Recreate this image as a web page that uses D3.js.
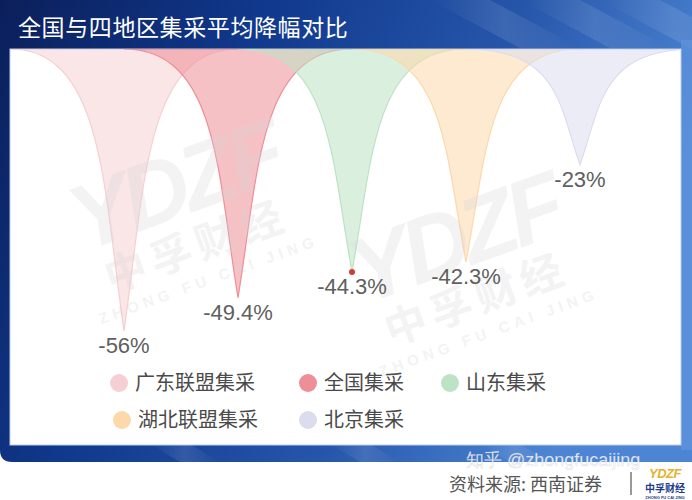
<!DOCTYPE html>
<html><head><meta charset="utf-8">
<script src="https://cdn.jsdelivr.net/npm/d3@7"></script>
<style>html,body{margin:0;padding:0;background:#fff;}svg{display:block;}</style>
</head><body>
<svg id="c" width="692" height="500"></svg>
<script>
const categories = ["广东联盟集采", "全国集采", "山东集采", "湖北联盟集采", "北京集采"];
const values = [-56, -49.4, -44.3, -42.3, -23];
const valueLabels = ["-56%", "-49.4%", "-44.3%", "-42.3%", "-23%"];
const legendColors = ["#f6cfd3", "#ee8e96", "#bde2c4", "#fcd8ab", "#dcdcef"];
const title = "全国与四地区集采平均降幅对比";
const source = "资料来源: 西南证券";

const svg = d3.select("#c");
const defs = svg.append("defs");

const g1 = defs.append("linearGradient").attr("id","frame").attr("x1","0").attr("y1","0").attr("x2","1").attr("y2","0.3");
[["0","#0b1f5a"],["0.35","#10388c"],["0.7","#2656aa"],["1","#4d85d4"]].forEach(s=>g1.append("stop").attr("offset",s[0]).attr("stop-color",s[1]));
const g2 = defs.append("linearGradient").attr("id","streak").attr("x1","0").attr("y1","0").attr("x2","1").attr("y2","0");
[["0","#ffffff",0],["0.5","#ffffff",0.12],["1","#ffffff",0]].forEach(s=>g2.append("stop").attr("offset",s[0]).attr("stop-color",s[1]).attr("stop-opacity",s[2]));

const P = {x0:10, y0:49, x1:681, y1:445};
defs.append("clipPath").attr("id","pclip").append("rect")
  .attr("x",P.x0).attr("y",P.y0).attr("width",P.x1-P.x0).attr("height",P.y1-P.y0);

svg.append("path").attr("d","M0,0 H692 V462 H12 Q0,462 0,450 Z").attr("fill","url(#frame)");
const streaks = svg.append("g").attr("opacity",0.9);
[[430,0],[520,0],[600,0],[150,444],[330,444],[480,444]].forEach(([x,y])=>{
  if(y===0) streaks.append("path").attr("d",`M${x},0 L${x+60},0 L${x+150},48 L${x+90},48 Z`).attr("fill","url(#streak)");
  else streaks.append("path").attr("d",`M${x},444 L${x+40},444 L${x+70},462 L${x+30},462 Z`).attr("fill","url(#streak)");
});
svg.append("rect").attr("x",681).attr("y",40).attr("width",11).attr("height",410).attr("fill","#5f93db").attr("opacity",0.7);

svg.append("text").attr("x",18).attr("y",36).text(title)
  .attr("font-family","Noto Sans CJK SC").attr("font-size",23).attr("fill","#ffffff").attr("letter-spacing",0.6);

svg.append("rect").attr("x",P.x0).attr("y",P.y0).attr("width",P.x1-P.x0).attr("height",P.y1-P.y0)
  .attr("fill","#ffffff").attr("stroke","#b9cdea").attr("stroke-width",1);

const x = d3.scaleBand().domain(categories).range([67, 637]).padding(0);
const y = d3.scaleLinear().domain([0, -60]).range([P.y0, P.y0 + 302]);

function watermark(cx, cy) {
  const w = svg.append("g").attr("transform",`translate(${cx},${cy}) rotate(-20)`).attr("opacity",0.28);
  w.append("text").text("YDZF").attr("text-anchor","middle").attr("y",0)
    .attr("font-family","Liberation Sans").attr("font-weight","bold").attr("font-style","italic")
    .attr("font-size",92).attr("fill","#d6d6d6").attr("letter-spacing",-6);
  w.append("text").text("中孚财经").attr("text-anchor","middle").attr("y",48)
    .attr("font-family","Noto Sans CJK SC").attr("font-weight","bold").attr("font-size",42).attr("fill","#d6d6d6").attr("letter-spacing",6);
  w.append("text").text("ZHONG FU CAI JING").attr("text-anchor","middle").attr("y",74)
    .attr("font-family","Liberation Sans").attr("font-weight","bold").attr("font-size",15).attr("fill","#d6d6d6").attr("letter-spacing",5);
}

const spikes = svg.append("g").attr("clip-path","url(#pclip)");
const a = 0.18;
function spikePath(cx, w, y0, y1) {
  const ym = (y0 + y1) / 2;
  return `M${cx-w},${y0} L${cx+w},${y0} C${cx+a*w},${y0} ${cx+a*w},${ym} ${cx},${y1} C${cx-a*w},${ym} ${cx-a*w},${y0} ${cx-w},${y0} Z`;
}
const data = categories.map((c,i)=>({c, v:values[i], label:valueLabels[i], color:legendColors[i]}));
spikes.selectAll("path").data(data).join("path")
  .attr("d", d => spikePath(x(d.c) + x.bandwidth()/2, x.bandwidth(), y(0), y(d.v)))
  .attr("fill", d => d.color).attr("fill-opacity", 0.55)
  .attr("stroke", d => d.color).attr("stroke-width", 1.2);

watermark(185, 215);
watermark(465, 268);

svg.append("circle").attr("cx", x(categories[2]) + x.bandwidth()/2).attr("cy", y(values[2]))
  .attr("r", 3).attr("fill", "#d23b3b");

svg.selectAll("text.val").data(data).join("text").attr("class","val")
  .attr("x", d => x(d.c) + x.bandwidth()/2).attr("y", d => y(d.v) + 22)
  .attr("text-anchor","middle").text(d => d.label)
  .attr("font-family","Liberation Sans").attr("font-size",22).attr("fill","#606060");

const legPos = [[119,383],[308,383],[450,383],[122,420],[308,420]];
const leg = svg.append("g");
data.forEach((d,i)=>{
  const [lx,ly] = legPos[i];
  leg.append("circle").attr("cx",lx).attr("cy",ly).attr("r",9).attr("fill",d.color);
  leg.append("text").attr("x",lx+16).attr("y",ly+7).text(d.c)
    .attr("font-family","Noto Sans CJK SC").attr("font-size",20).attr("fill","#4a4a4a");
});

svg.append("text").attr("x",466).attr("y",466).text("知乎 @zhongfucaijing")
  .attr("font-family","Liberation Sans").attr("font-size",18).attr("fill","#ffffff").attr("fill-opacity",0.85)
  .attr("stroke","#9aa3b5").attr("stroke-opacity",0.35).attr("stroke-width",0.6);
svg.append("text").attr("x",449).attr("y",491).text(source)
  .attr("font-family","Noto Sans CJK SC").attr("font-size",18).attr("fill","#555555");
svg.append("line").attr("x1",631).attr("x2",631).attr("y1",472).attr("y2",495).attr("stroke","#555").attr("stroke-width",1.2);
svg.append("text").attr("x",665).attr("y",478).attr("text-anchor","middle").text("YDZF")
  .attr("font-family","Liberation Sans").attr("font-weight","bold").attr("font-style","italic")
  .attr("font-size",13).attr("fill","#e3b22a").attr("letter-spacing",-0.5);
svg.append("text").attr("x",665).attr("y",492).attr("text-anchor","middle").text("中孚财经")
  .attr("font-family","Noto Sans CJK SC").attr("font-weight","bold").attr("font-size",10).attr("fill","#1d3c8c");
svg.append("text").attr("x",665).attr("y",498.5).attr("text-anchor","middle").text("ZHONG FU CAI JING")
  .attr("font-family","Liberation Sans").attr("font-weight","bold").attr("font-size",4).attr("fill","#1d3c8c");
</script>
</body></html>
